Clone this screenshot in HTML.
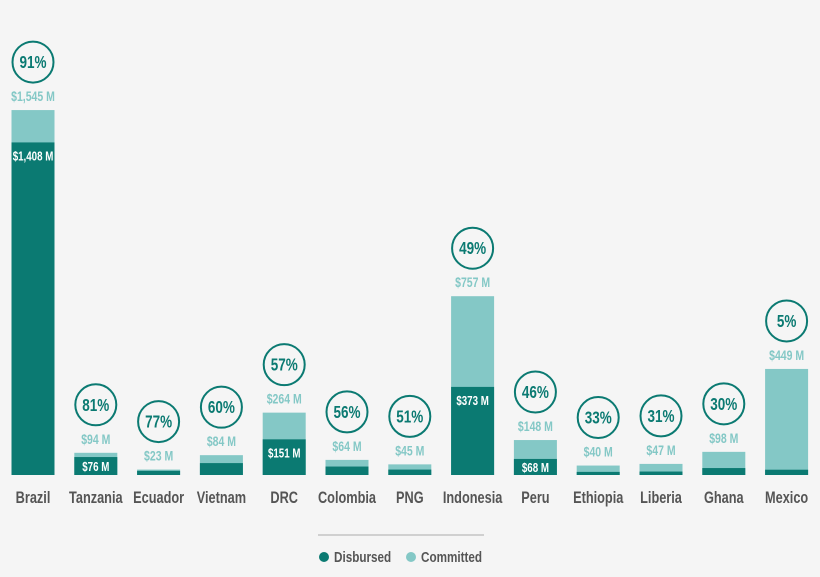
<!DOCTYPE html>
<html><head><meta charset="utf-8"><style>
html,body{margin:0;background:#f5f5f5;overflow:hidden;width:820px;height:577px;}
svg{display:block}
svg text{font-family:"Liberation Sans",sans-serif;font-weight:bold;}
</style></head><body>
<svg width="820" height="577" viewBox="0 0 820 577" xmlns="http://www.w3.org/2000/svg">
<rect width="820" height="577" fill="#f5f5f5"/>
<g id="bars"></g>
<line x1="318" y1="535" x2="484" y2="535" stroke="#aaa" stroke-width="1"/>
<circle cx="324" cy="557" r="5" fill="#0b7a72"/>
<text transform="translate(334,562) scale(0.78,1)" font-size="15" fill="#555">Disbursed</text>
<circle cx="411" cy="557" r="5" fill="#84c8c6"/>
<text transform="translate(421,562) scale(0.78,1)" font-size="15" fill="#555">Committed</text>
</svg>
<script>
var d=[["Brazil",1545,1408,"91%","$1,408 M"],["Tanzania",94,76,"81%","$76 M"],["Ecuador",23,17.7,"77%",""],["Vietnam",84,50.4,"60%",""],["DRC",264,151,"57%","$151 M"],["Colombia",64,35.8,"56%",""],["PNG",45,23,"51%",""],["Indonesia",757,373,"49%","$373 M"],["Peru",148,68,"46%","$68 M"],["Ethiopia",40,13.2,"33%",""],["Liberia",47,14.6,"31%",""],["Ghana",98,29.4,"30%",""],["Mexico",449,22.4,"5%",""]];
var s="",B=475,k=0.2362;
function T(x,y,sz,c,t,sx){return '<text transform="translate('+x+','+y+') scale('+sx+',1)" font-size="'+sz+'" fill="'+c+'" text-anchor="middle">'+t+'</text>';}
d.forEach(function(r,i){var cx=33+i*62.8,x=cx-21.5,hc=r[1]*k,hd=r[2]*k,t=B-hc;
s+='<rect x="'+x+'" y="'+t+'" width="43" height="'+hc+'" fill="#84c8c6"/>';
s+='<rect x="'+x+'" y="'+(B-hd)+'" width="43" height="'+hd+'" fill="#0b7a72"/>';
if(r[4])s+=T(cx,B-hd+Math.min(18,hd/2+5),13,"#fff",r[4],0.75);
var v="$"+(r[1]>=1000?"1,545":r[1])+" M";
s+=T(cx,t-9,14,"#84c8c6",v,0.75);
s+='<circle cx="'+cx+'" cy="'+(t-48)+'" r="20.5" fill="none" stroke="#0b7a72" stroke-width="2"/>';
s+=T(cx,t-42,18,"#0b7a72",r[3],0.75);
s+=T(cx,503,17,"#555",r[0],0.75);});
document.getElementById("bars").innerHTML=s;
</script>
</body></html>
